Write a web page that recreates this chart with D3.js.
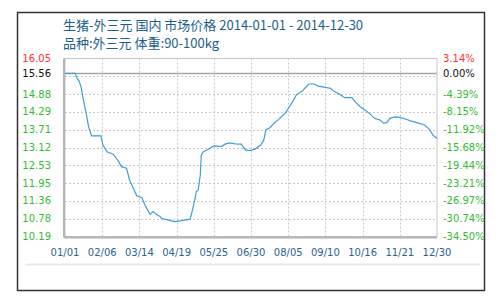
<!DOCTYPE html>
<html>
<head>
<meta charset="utf-8">
<script src="https://cdn.jsdelivr.net/npm/d3@7"></script>
<style>
  body { margin: 0; background: #fff; }
  text { font-family: "DejaVu Sans", sans-serif; }
</style>
</head>
<body>
<div id="chart"></div>
<script>
// daily price points (date, yuan/kg)
var dates = ["2014-01-01","2014-01-11","2014-01-12","2014-01-15","2014-01-17","2014-01-18","2014-01-20","2014-01-22","2014-01-24","2014-01-27",
  "2014-02-05","2014-02-07","2014-02-11","2014-02-17","2014-02-22","2014-02-25","2014-03-02","2014-03-05","2014-03-08","2014-03-12",
  "2014-03-17","2014-03-20","2014-03-22","2014-03-25","2014-03-28","2014-03-31","2014-04-04","2014-04-05","2014-04-12","2014-04-18",
  "2014-04-25","2014-05-03","2014-05-05","2014-05-08","2014-05-09","2014-05-11","2014-05-13","2014-05-14","2014-05-16","2014-05-21",
  "2014-05-26","2014-06-03","2014-06-06","2014-06-11","2014-06-16","2014-06-22","2014-06-26","2014-06-30","2014-07-05","2014-07-11",
  "2014-07-14","2014-07-16","2014-07-20","2014-07-24","2014-07-28","2014-08-02","2014-08-05","2014-08-09","2014-08-12","2014-08-15",
  "2014-08-20","2014-08-23","2014-08-27","2014-09-01","2014-09-05","2014-09-12","2014-09-17","2014-09-21","2014-09-26","2014-10-01",
  "2014-10-08","2014-10-11","2014-10-16","2014-10-21","2014-10-26","2014-10-30","2014-11-04","2014-11-08","2014-11-11","2014-11-14",
  "2014-11-19","2014-11-24","2014-11-29","2014-12-05","2014-12-12","2014-12-18","2014-12-23","2014-12-26","2014-12-30"];
var prices = [15.56,15.56,15.45,15.29,15.07,14.85,14.52,14.19,13.80,13.50,
  13.50,13.20,12.98,12.90,12.68,12.49,12.44,12.05,11.83,11.53,
  11.47,11.23,11.10,10.92,11.01,10.92,10.84,10.79,10.73,10.68,
  10.71,10.76,11.01,11.45,11.66,11.72,12.21,12.87,12.98,13.06,
  13.17,13.15,13.23,13.27,13.24,13.23,13.04,13.02,13.06,13.20,
  13.37,13.70,13.77,13.92,14.03,14.19,14.30,14.52,14.68,14.87,
  14.96,15.07,15.21,15.21,15.14,15.10,15.07,14.96,14.87,14.76,
  14.76,14.63,14.46,14.35,14.21,14.08,14.03,13.92,13.94,14.08,
  14.13,14.11,14.06,13.99,13.92,13.86,13.70,13.53,13.42];

var basePrice = 15.56;
var gridValues = [10.19,10.78,11.36,11.95,12.53,13.12,13.71,14.29,14.88,15.46,16.05];
var leftLabels = ["10.19","10.78","11.36","11.95","12.53","13.12","13.71","14.29","14.88","15.56","16.05"];
var rightLabels = ["-34.50%","-30.74%","-26.97%","-23.21%","-19.44%","-15.68%","-11.92%","-8.15%","-4.39%","0.00%","3.14%"];
var xLabels = ["01/01","02/06","03/14","04/19","05/25","06/30","08/05","09/10","10/16","11/21","12/30"];
var titleLine1 = "生猪-外三元 国内 市场价格 2014-01-01 - 2014-12-30";
var titleLine2 = "品种:外三元 体重:90-100kg";

var W = 500, H = 300;
var pLeft = 65, pRight = 437, pTop = 58.5, pBottom = 236.5;

var svg = d3.select("#chart").append("svg").attr("width", W).attr("height", H);

// outer frame
svg.append("rect").attr("x", 17.5).attr("y", 12.5).attr("width", 467).attr("height", 278)
    .attr("fill", "#fff").attr("stroke", "#333").attr("stroke-width", 1.5);
svg.append("line").attr("x1", 26).attr("x2", 480).attr("y1", 264.5).attr("y2", 264.5)
    .attr("stroke", "#e8e8e8").attr("stroke-width", 2);

// titles
svg.append("text").attr("x", 63).attr("y", 30).attr("fill", "#1d5e8c")
    .style("font-family", "'Noto Sans CJK SC', sans-serif").style("font-size", "13px").text(titleLine1);
svg.append("text").attr("x", 63).attr("y", 48).attr("fill", "#1d5e8c")
    .style("font-family", "'Noto Sans CJK SC', sans-serif").style("font-size", "13px").text(titleLine2);

var parse = d3.timeParse("%Y-%m-%d");
var start = parse("2014-01-01"), end = parse("2014-12-30");
var x = d3.scaleTime().domain([start, end]).range([pLeft, pRight]);
var y = d3.scaleLinear().domain([gridValues[0], gridValues[gridValues.length - 1]]).range([pBottom, pTop]);

var xTicks = d3.range(xLabels.length).map(function (i) {
    return new Date(+start + i * (end - start) / (xLabels.length - 1));
});

var grid = svg.append("g").attr("class", "grid");
grid.selectAll("line.h")
    .data(gridValues.slice(1, -1)).enter().append("line")
    .attr("x1", pLeft).attr("x2", pRight)
    .attr("y1", function (d) { return Math.round(y(d)) + 0.5; })
    .attr("y2", function (d) { return Math.round(y(d)) + 0.5; })
    .attr("stroke", "#c8c8c8").attr("stroke-dasharray", "2,2");
grid.selectAll("line.v")
    .data(xTicks.slice(1, -1)).enter().append("line")
    .attr("y1", pTop).attr("y2", pBottom)
    .attr("x1", function (d) { return Math.round(x(d)) + 0.5; })
    .attr("x2", function (d) { return Math.round(x(d)) + 0.5; })
    .attr("stroke", "#c8c8c8").attr("stroke-dasharray", "2,2");

// base price line
svg.append("line").attr("x1", pLeft).attr("x2", pRight)
    .attr("y1", Math.round(y(basePrice)) + 0.5).attr("y2", Math.round(y(basePrice)) + 0.5)
    .attr("stroke", "#a8a8a8").attr("stroke-width", 1.5);

// plot border
svg.append("rect").attr("x", pLeft).attr("y", pTop).attr("width", pRight - pLeft).attr("height", pBottom - pTop)
    .attr("fill", "none").attr("stroke", "#c4c4c4");
svg.append("line").attr("x1", pLeft - 1).attr("x2", pLeft - 1).attr("y1", pTop).attr("y2", pBottom + 1)
    .attr("stroke", "#b4b4b4").attr("stroke-width", 2);
svg.append("line").attr("x1", pLeft - 1).attr("x2", pRight).attr("y1", pBottom + 1).attr("y2", pBottom + 1)
    .attr("stroke", "#b4b4b4").attr("stroke-width", 2);

// price line
var line = d3.line()
    .x(function (d, i) { return x(parse(dates[i])); })
    .y(function (d) { return y(d); });
svg.append("path").datum(prices)
    .attr("d", line)
    .attr("fill", "none")
    .attr("stroke", "#3f9ddc")
    .attr("stroke-width", 1.2);

// axis labels
function labelColor(i, n) {
    if (i === n - 1) return "#ff3333";
    if (i === n - 2) return "#111";
    return "#33bb33";
}
var labelY = gridValues.map(function (d, i) { return i === gridValues.length - 2 ? basePrice : d; });

svg.append("g").selectAll("text")
    .data(leftLabels).enter().append("text")
    .attr("x", 51).attr("y", function (d, i) { return y(labelY[i]) + 3.5; })
    .attr("text-anchor", "end")
    .style("font-size", "10px")
    .attr("fill", function (d, i) { return labelColor(i, leftLabels.length); })
    .text(function (d) { return d; });

svg.append("g").selectAll("text")
    .data(rightLabels).enter().append("text")
    .attr("x", 443).attr("y", function (d, i) { return y(labelY[i]) + 3.5; })
    .style("font-size", "10px")
    .attr("fill", function (d, i) { return labelColor(i, rightLabels.length); })
    .text(function (d) { return d; });

svg.append("g").selectAll("text")
    .data(xLabels).enter().append("text")
    .attr("x", function (d, i) { return x(xTicks[i]); })
    .attr("y", 256)
    .attr("text-anchor", "middle")
    .style("font-size", "10px")
    .attr("fill", "#2a6496")
    .text(function (d) { return d; });
</script>
</body>
</html>
